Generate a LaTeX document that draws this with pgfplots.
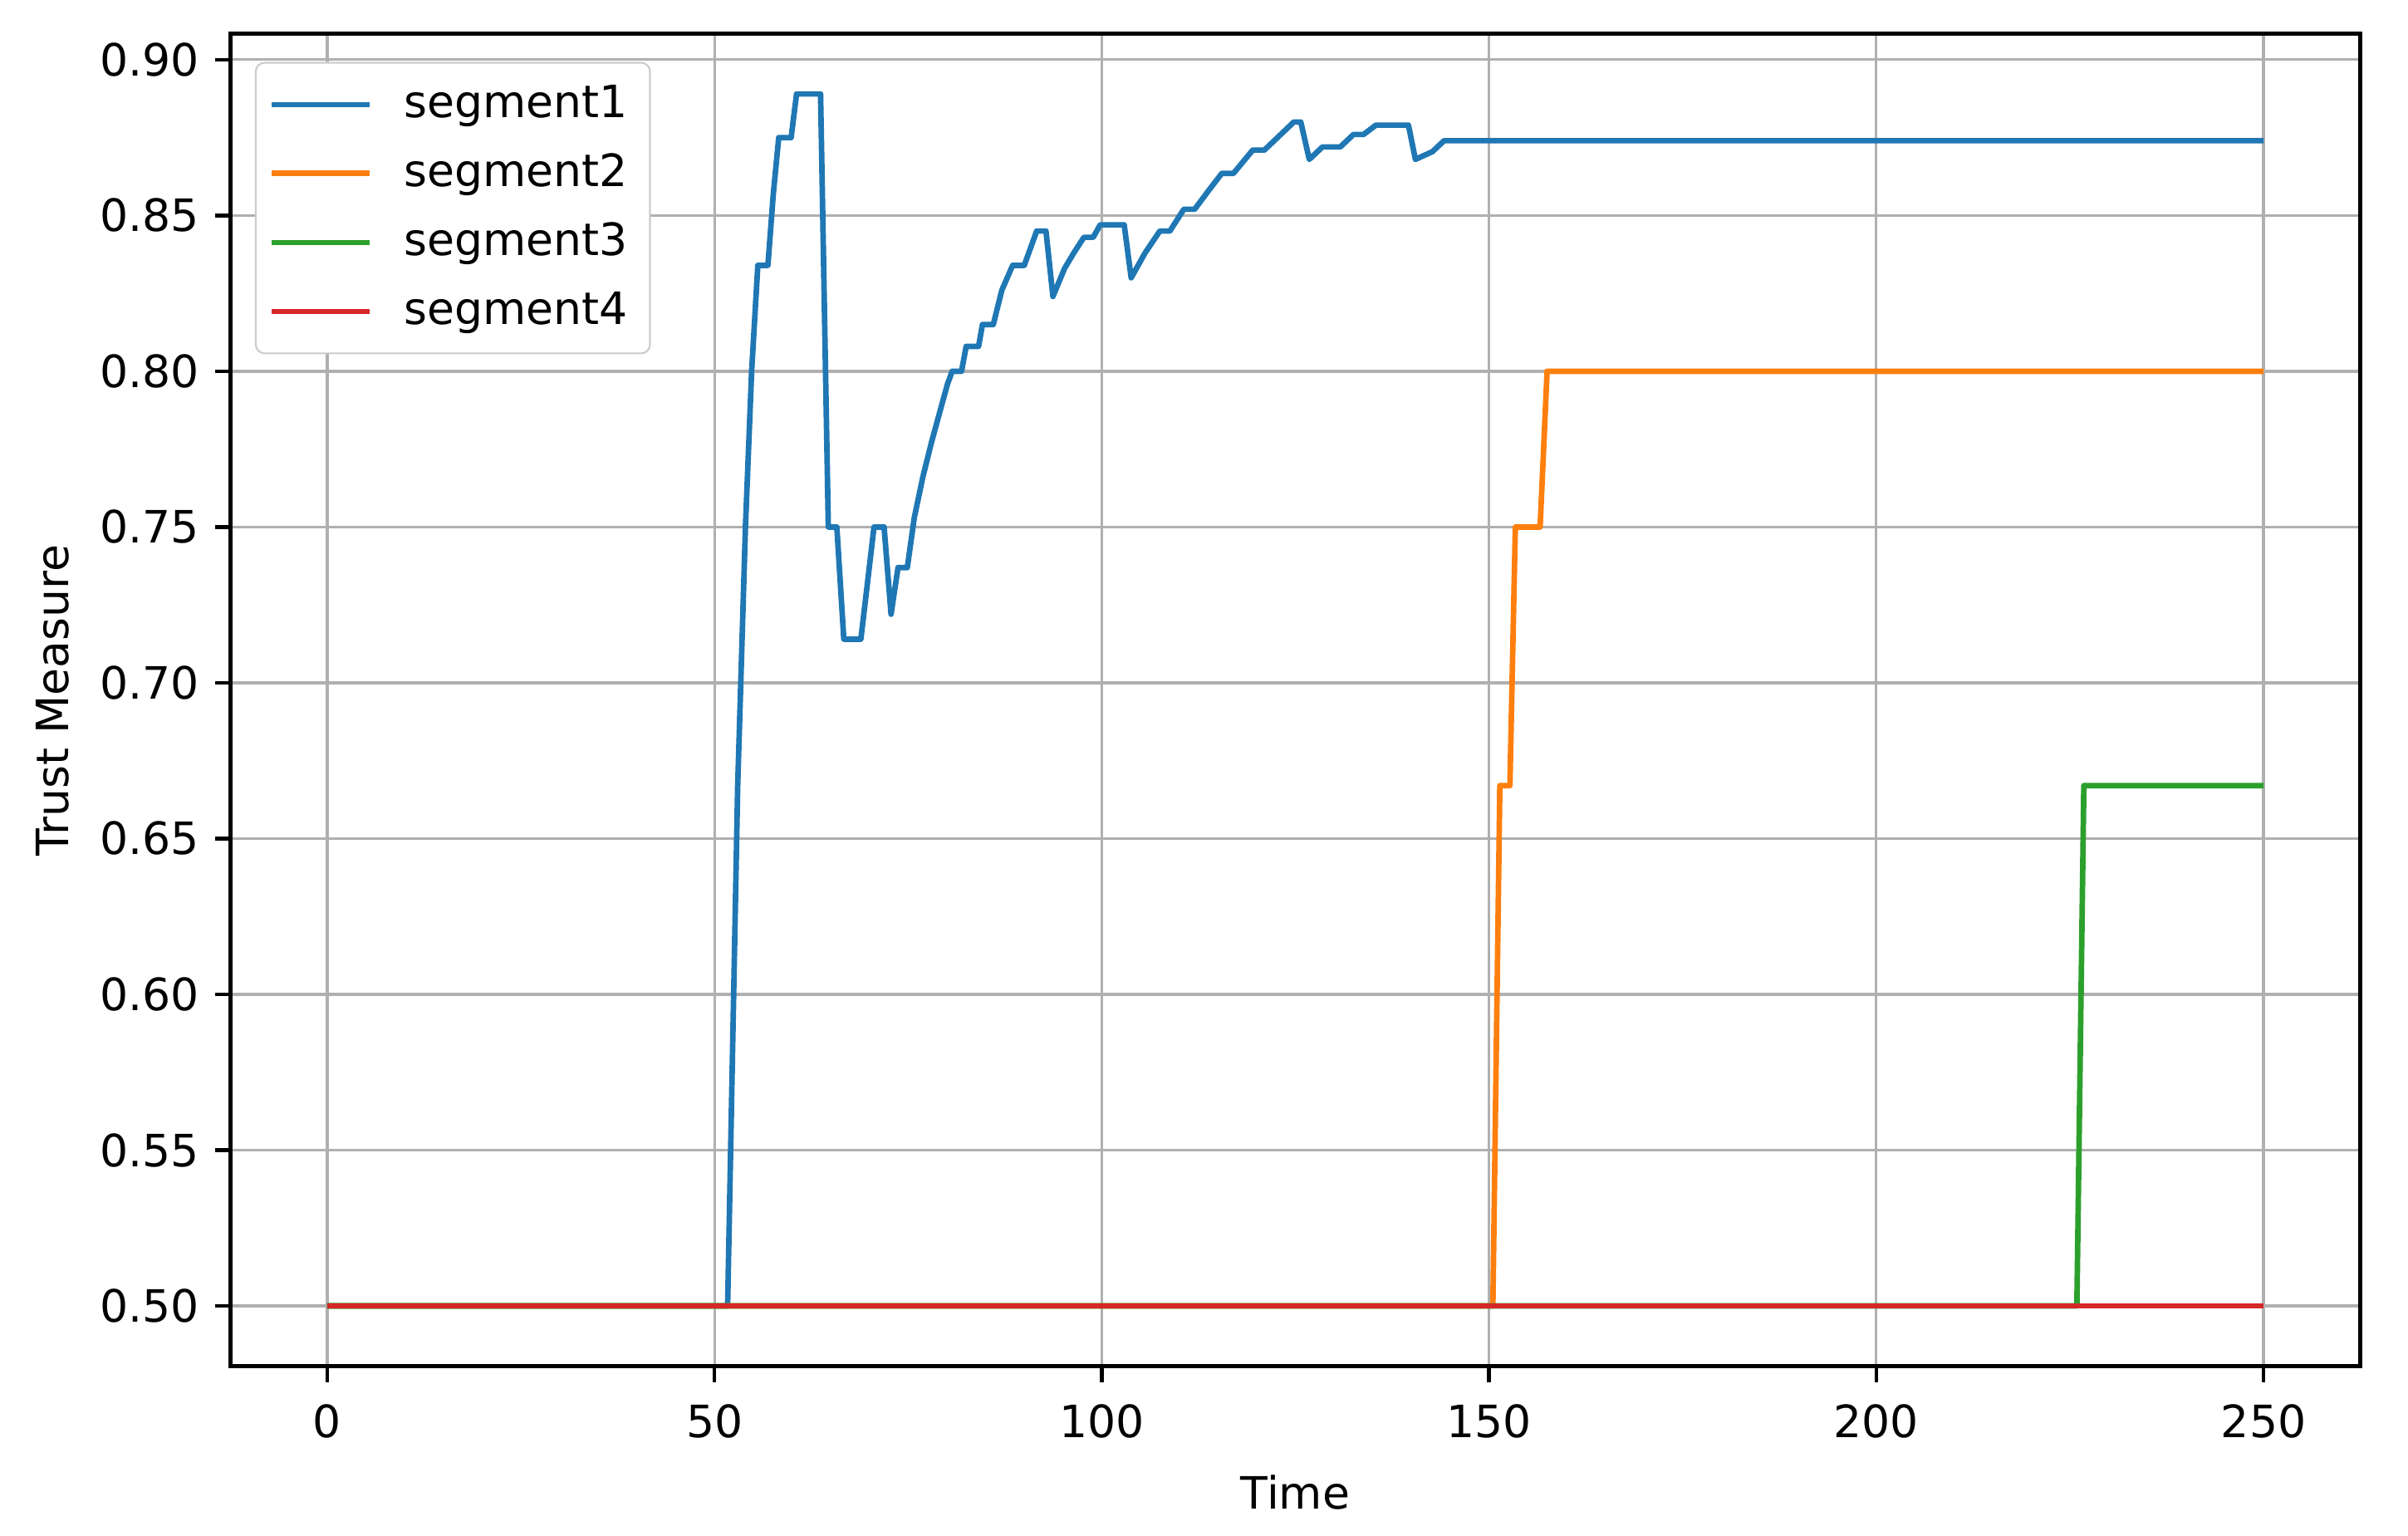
\documentclass[border=0pt]{standalone}
\usepackage{fontspec}
\setmainfont{DejaVu Sans}
\usepackage{pgfplots}
\pgfplotsset{compat=1.18}

\definecolor{c1}{HTML}{1F77B4}
\definecolor{c2}{HTML}{FF7F0E}
\definecolor{c3}{HTML}{2CA02C}
\definecolor{c4}{HTML}{D62728}

\begin{document}
\begin{tikzpicture}
\begin{axis}[
    scale only axis,
    width=478pt, height=299pt,
    xmin=-12.5, xmax=262.5,
    ymin=0.4806, ymax=0.9083,
    xtick={0,50,100,150,200,250},
    ytick={0.50,0.55,0.60,0.65,0.70,0.75,0.80,0.85,0.90},
    yticklabel style={/pgf/number format/.cd, fixed, fixed zerofill, precision=2},
    xticklabel style={yshift=-1.5pt},
    /pgf/number format/assume math mode=true,
    ticklabel style={font=\fontsize{10}{12}\selectfont},
    grid=major,
    grid style={color=black!31, line width=0.6pt},
    axis line style={line width=0.85pt},
    tick align=outside, tick pos=left,
    major tick length=3.5pt,
    every tick/.style={black, line width=0.85pt},
    xlabel={Time}, ylabel={Trust Measure},
    label style={font=\fontsize{10}{12}\selectfont},
    xlabel style={yshift=-1.5pt},
    legend style={at={(0.0115,0.979)}, anchor=north west,
        draw=black!20, rounded corners=2pt, fill=white,
        font=\fontsize{10}{12}\selectfont, row sep=2.6pt,
        inner xsep=3pt, inner ysep=3pt},
    legend cell align=left,
    legend image code/.code={\draw[#1] (0pt,0pt) -- (22pt,0pt); \path (27pt,0pt);},
    every axis plot/.append style={line width=1.25pt, line join=round},
]

% segment1
\addplot[c1] coordinates {
(0,0.5) (51.7,0.5) (53.0,0.667) (54.0,0.75) (54.8,0.80) (55.6,0.834)
(56.9,0.834) (57.6,0.857) (58.3,0.875) (59.9,0.875) (60.6,0.889) (63.7,0.889)
(64.7,0.750) (65.8,0.750) (66.7,0.714) (68.9,0.714) (69.8,0.733) (70.6,0.750)
(71.9,0.750) (72.8,0.722) (73.7,0.737) (74.9,0.737) (75.8,0.753) (76.9,0.766)
(78.0,0.777) (79.1,0.787) (80.1,0.796) (80.7,0.800) (81.9,0.800) (82.5,0.808)
(84.1,0.808) (84.6,0.815) (86.0,0.815) (87.1,0.826) (88.5,0.834) (90.0,0.834)
(91.6,0.845) (92.8,0.845) (93.7,0.824) (95.2,0.833) (96.4,0.838) (97.7,0.843)
(98.9,0.843) (99.8,0.847) (102.9,0.847) (103.8,0.830) (105.6,0.838) (107.5,0.845)
(108.8,0.845) (110.6,0.852) (112.0,0.852) (113.8,0.858) (115.5,0.8635) (117.0,0.8635)
(119.5,0.871) (121.0,0.871) (124.8,0.880) (125.7,0.880) (126.8,0.868) (128.5,0.872)
(130.8,0.872) (132.5,0.876) (133.8,0.876) (135.4,0.879) (139.6,0.879) (140.5,0.868)
(142.7,0.8705) (144.2,0.874) (250,0.874)
};
\addlegendentry{segment1}

% segment2
\addplot[c2] coordinates {
(0,0.5) (150.5,0.5) (151.4,0.667) (152.7,0.667) (153.4,0.75) (156.6,0.75)
(157.5,0.80) (250,0.80)
};
\addlegendentry{segment2}

% segment3
\addplot[c3] coordinates {
(0,0.5) (225.9,0.5) (226.8,0.667) (250,0.667)
};
\addlegendentry{segment3}

% segment4
\addplot[c4] coordinates {
(0,0.5) (250,0.5)
};
\addlegendentry{segment4}

\end{axis}
% white margin as in the reference
\path (current axis.south west) ++(-51.7pt,-37.9pt)
      (current axis.north east) ++(10.7pt,7.6pt);
\end{tikzpicture}
\end{document}
